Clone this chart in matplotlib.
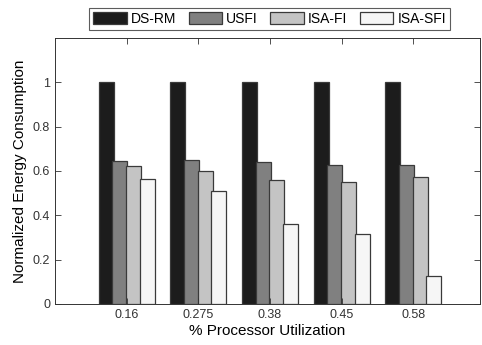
import matplotlib
matplotlib.use("Agg")
import matplotlib.pyplot as plt
import numpy as np

plt.rcParams['font.family'] = ['Liberation Sans', 'DejaVu Sans']

# Data
utilization = ["0.16", "0.275", "0.38", "0.45", "0.58"]
ds_rm = [1.0, 1.0, 1.0, 1.0, 1.0]
usfi = [0.645, 0.648, 0.639, 0.626, 0.629]
isa_fi = [0.624, 0.599, 0.558, 0.549, 0.573]
isa_sfi = [0.564, 0.509, 0.361, 0.314, 0.128]

series = [("DS-RM", ds_rm, "#1c1c1c"),
          ("USFI", usfi, "#808080"),
          ("ISA-FI", isa_fi, "#c4c4c4"),
          ("ISA-SFI", isa_sfi, "#f6f6f6")]

fig = plt.figure(figsize=(4.82, 3.45), dpi=100)
ax = fig.add_axes([0.114, 0.119, 0.882, 0.771])

x = np.arange(1, len(utilization) + 1)
step = 0.19
width = 0.21
for i, (name, vals, col) in enumerate(series):
    ax.bar(x + (i - 1.5) * step, vals, width, color=col, edgecolor="#3a3a3a",
           linewidth=0.9, label=name)

ax.set_xlim(0, 5.93)
ax.set_ylim(0, 1.2)
ax.set_xticks(x)
ax.set_xticklabels(utilization)
ax.set_yticks([0, 0.2, 0.4, 0.6, 0.8, 1])
ax.set_yticklabels(["0", "0.2", "0.4", "0.6", "0.8", "1"])
ax.tick_params(direction="in", top=True, right=True, labelsize=9, length=4,
               width=0.6, colors="#333333")
for s in ax.spines.values():
    s.set_linewidth(0.7)
    s.set_color("#333333")

ax.set_xlabel("% Processor Utilization", fontsize=11, labelpad=2)
ax.set_ylabel("Normalized Energy Consumption", fontsize=11, labelpad=4)

leg = ax.legend(loc="lower center", bbox_to_anchor=(0.505, 1.03), ncol=4,
                fontsize=10, frameon=True, fancybox=False, edgecolor="#333333",
                handlelength=2.4, handleheight=1.0, handletextpad=0.3,
                columnspacing=0.9, borderpad=0.3, borderaxespad=0)
leg.get_frame().set_linewidth(0.8)

fig.savefig("out.png", dpi=100)
